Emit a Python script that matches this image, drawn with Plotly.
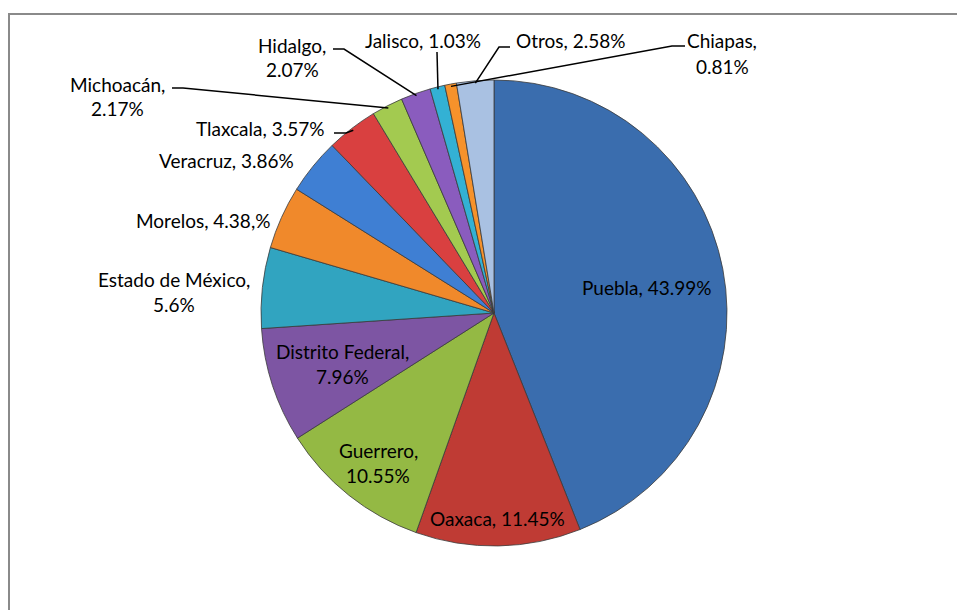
import math
import plotly.graph_objects as go

# ---- data ----
names = ["Puebla", "Oaxaca", "Guerrero", "Distrito Federal", "Estado de México",
         "Morelos", "Veracruz", "Tlaxcala", "Michoacán", "Hidalgo", "Jalisco",
         "Chiapas", "Otros"]
values = [43.99, 11.45, 10.55, 7.96, 5.6, 4.38, 3.86, 3.57, 2.17, 2.07, 1.03, 0.81, 2.58]
value_text = ["43.99%", "11.45%", "10.55%", "7.96%", "5.6%", "4.38,%", "3.86%",
              "3.57%", "2.17%", "2.07%", "1.03%", "0.81%", "2.58%"]

# ---- style ----
colors = ["#3A6DAE", "#BF3B34", "#94B944", "#7D55A3", "#31A4C0", "#F0892B",
          "#3F7FD3", "#D94040", "#A3CA50", "#8A5CBE", "#33B1D4", "#F6922B", "#A9C1E2"]

W, H = 965, 610
OFF = 8  # page body margin: figure is drawn 8px right/down in the window
CX, CY, R = 494, 313, 233  # pie centre / radius in window pixels
FONT = "Lato"
FS = 19
LINE_H = 25

# label layout: lines, centre of first line (window px), leader points on label side
label_layout = {
    "Puebla": (["{n}, {v}"], (647, 287), None),
    "Oaxaca": (["{n}, {v}"], (497, 518), None),
    "Guerrero": (["{n},", "{v}"], (378, 450), None),
    "Distrito Federal": (["{n},", "{v}"], (342, 351), None),
    "Estado de México": (["{n},", "{v}"], (174, 279), None),
    "Morelos": (["{n}, {v}"], (203, 220), None),
    "Veracruz": (["{n}, {v}"], (226, 160), None),
    "Tlaxcala": (["{n}, {v}"], (260, 128), [(334, 133), (346, 133)]),
    "Michoacán": (["{n},", "{v}"], (117, 84), [(172, 88), (183, 88)]),
    "Hidalgo": (["{n},", "{v}"], (292, 45), [(333, 49), (344, 49)]),
    "Jalisco": (["{n}, {v}"], (423, 40), [(437, 52)]),
    "Chiapas": (["{n},", "{v}"], (722, 41), [(685, 46), (672, 46)]),
    "Otros": (["{n}, {v}"], (570, 40), [(510, 47), (499, 47)]),
}


def px(x):
    return (x - OFF) / W


def py(y):
    return 1 - (y - OFF) / H


fig = go.Figure(go.Pie(
    labels=names, values=values, sort=False, direction="clockwise", rotation=0,
    textinfo="none", hoverinfo="label+percent",
    marker=dict(colors=colors, line=dict(color="#3a3a3a", width=0.8)),
    domain=dict(x=[px(CX - R), px(CX + R)], y=[py(CY + R), py(CY - R)]),
    showlegend=False,
))

annotations = []
shapes = []
total = sum(values)
cum = 0.0
for name, val, vt in zip(names, values, value_text):
    mid = (cum + val / 2) / total
    cum += val
    ang = 2 * math.pi * mid
    ex = CX + R * 0.99 * math.sin(ang)
    ey = CY - R * 0.99 * math.cos(ang)
    lines, (tx, ty), leader = label_layout[name]
    for i, ln in enumerate(lines):
        annotations.append(dict(
            x=px(tx), y=py(ty + i * LINE_H), xref="paper", yref="paper",
            text=ln.format(n=name, v=vt), showarrow=False,
            xanchor="center", yanchor="middle",
            font=dict(family=FONT, size=FS, color="#000000")))
    if leader:
        pts = leader + [(ex, ey)]
        path = "M " + " L ".join(f"{px(a)},{py(b)}" for a, b in pts)
        shapes.append(dict(type="path", xref="paper", yref="paper", path=path,
                           line=dict(color="#000000", width=1.5)))

# chart frame (only left/top edges visible)
shapes.append(dict(type="rect", xref="paper", yref="paper",
                   x0=px(9), y0=py(640), x1=px(990), y1=py(14),
                   line=dict(color="#8a8a8a", width=2), layer="below"))

fig.update_layout(
    width=W, height=H, margin=dict(l=0, r=0, t=0, b=0),
    paper_bgcolor="white", plot_bgcolor="white",
    annotations=annotations, shapes=shapes,
)

fig.write_html("out.html")
